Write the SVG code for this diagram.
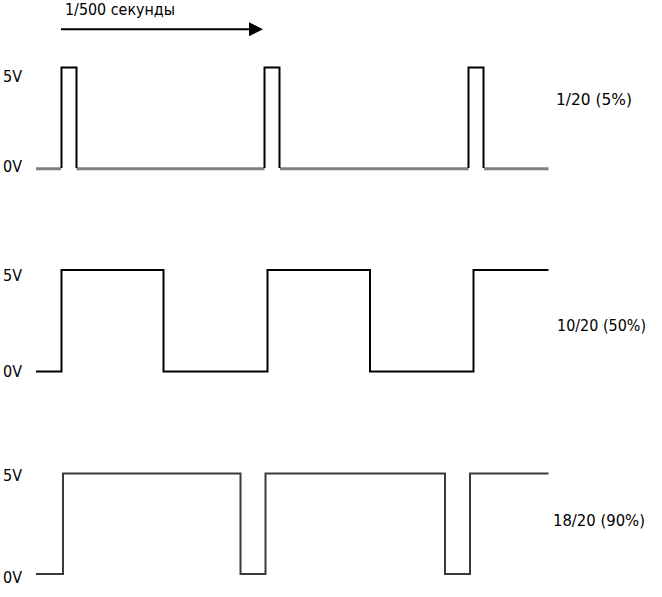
<svg xmlns="http://www.w3.org/2000/svg" width="662" height="597" viewBox="0 0 662 597">
  <style>
    text { font-family: "DejaVu Sans", Verdana, sans-serif; font-size: 15px; fill: #000; }
    .sig { fill: none; stroke: #000; stroke-width: 2; stroke-linejoin: miter; stroke-linecap: butt; }
    .base { fill: none; stroke: #808080; stroke-width: 3; }
    .dk { stroke: #3a3a3a; }
  </style>
  <defs>
    <marker id="ah" markerWidth="14" markerHeight="14" refX="0" refY="7" orient="auto" markerUnits="userSpaceOnUse">
      <polygon points="0,0 14,7 0,14" fill="#000"/>
    </marker>
  </defs>
  <rect width="662" height="597" fill="#fff"/>

  <g id="connectors">
    <line x1="61" y1="29.3" x2="249" y2="29.3" stroke="#000" stroke-width="2" marker-end="url(#ah)"/>
    <text x="65" y="15" textLength="110" lengthAdjust="spacingAndGlyphs">1/500 секунды</text>
  </g>

  <g id="wave-5">
    <text x="3" y="82" textLength="19" lengthAdjust="spacingAndGlyphs">5V</text>
    <text x="3" y="172" textLength="19" lengthAdjust="spacingAndGlyphs">0V</text>
    <path class="base" d="M36 168.8 H61 M76.5 168.8 H264.5 M280 168.8 H468.5 M484 168.8 H548.5"/>
    <path class="sig" d="M61.5 168 V67.5 H76.5 V168 M264.5 168 V67.5 H279.5 V168 M468.5 168 V67.5 H483.5 V168"/>
    <text x="556" y="105" textLength="76" lengthAdjust="spacingAndGlyphs">1/20 (5%)</text>
  </g>

  <g id="wave-50">
    <text x="3" y="281" textLength="19" lengthAdjust="spacingAndGlyphs">5V</text>
    <text x="3" y="377" textLength="19" lengthAdjust="spacingAndGlyphs">0V</text>
    <path class="sig" d="M36 371.5 H61.5 V270 H163.5 V371.5 H267.5 V270 H370 V371.5 H473.5 V270 H548.5"/>
    <text x="557" y="331" textLength="89" lengthAdjust="spacingAndGlyphs">10/20 (50%)</text>
  </g>

  <g id="wave-90">
    <text x="3" y="481" textLength="19" lengthAdjust="spacingAndGlyphs">5V</text>
    <text x="3" y="583" textLength="19" lengthAdjust="spacingAndGlyphs">0V</text>
    <path class="sig dk" d="M36 574 H63 V473.5 H240.5 V574 H265.5 V473.5 H445 V574 H470 V473.5 H548.5"/>
    <text x="553" y="526" textLength="92" lengthAdjust="spacingAndGlyphs">18/20 (90%)</text>
  </g>
</svg>
